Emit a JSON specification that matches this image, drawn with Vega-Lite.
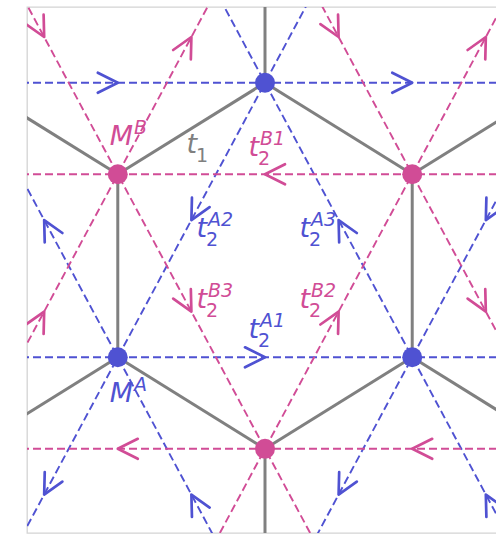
{
  "$schema": "https://vega.github.io/schema/vega-lite/v6.json",
  "width": 476,
  "height": 526,
  "autosize": "none",
  "padding": {"left": 27, "top": 7, "right": 0, "bottom": 3},
  "config": {"view": {"stroke": "#d4d4d4", "strokeWidth": 1.3}},
  "datasets": {
    "bonds": [
      {"x1": 0, "y1": 1, "x2": 0, "y2": 2},
      {"x1": 0, "y1": 1, "x2": -0.866, "y2": 0.5},
      {"x1": 0, "y1": 1, "x2": 0.866, "y2": 0.5},
      {"x1": -0.866, "y1": 0.5, "x2": -0.866, "y2": -0.5},
      {"x1": -0.866, "y1": 0.5, "x2": -1.7321, "y2": 1},
      {"x1": 0.866, "y1": 0.5, "x2": 0.866, "y2": -0.5},
      {"x1": 0.866, "y1": 0.5, "x2": 1.7321, "y2": 1},
      {"x1": -0.866, "y1": -0.5, "x2": 0, "y2": -1},
      {"x1": -0.866, "y1": -0.5, "x2": -1.7321, "y2": -1},
      {"x1": 0.866, "y1": -0.5, "x2": 0, "y2": -1},
      {"x1": 0.866, "y1": -0.5, "x2": 1.7321, "y2": -1},
      {"x1": 0, "y1": -1, "x2": 0, "y2": -2}
    ],
    "hops": [
      {"site": "A", "x1": -2, "y1": 1, "x2": 2, "y2": 1},
      {"site": "A", "x1": -2, "y1": -0.5, "x2": 2, "y2": -0.5},
      {"site": "A", "x1": -1.7321, "y1": -2, "x2": 0.866, "y2": 2.5},
      {"site": "A", "x1": 0, "y1": -2, "x2": 2.5981, "y2": 2.5},
      {"site": "A", "x1": -0.866, "y1": 2.5, "x2": 1.7321, "y2": -2},
      {"site": "A", "x1": -2.5981, "y1": 2.5, "x2": 0, "y2": -2},
      {"site": "B", "x1": -2, "y1": 0.5, "x2": 2, "y2": 0.5},
      {"site": "B", "x1": -2, "y1": -1, "x2": 2, "y2": -1},
      {"site": "B", "x1": -0.866, "y1": -2.5, "x2": 1.7321, "y2": 2},
      {"site": "B", "x1": -2.5981, "y1": -2.5, "x2": 0, "y2": 2},
      {"site": "B", "x1": 0.866, "y1": -2.5, "x2": -1.7321, "y2": 2},
      {"site": "B", "x1": 0, "y1": 2, "x2": 2.5981, "y2": -2.5}
    ],
    "arrows": [
      {"site": "A", "x": -0.866, "y": 1, "heading": 0},
      {"site": "A", "x": 0.866, "y": 1, "heading": 0},
      {"site": "A", "x": 0, "y": -0.5, "heading": 0},
      {"site": "A", "x": -0.433, "y": 0.25, "heading": 118},
      {"site": "A", "x": 0.433, "y": -1.25, "heading": 118},
      {"site": "A", "x": -1.299, "y": -1.25, "heading": 118},
      {"site": "A", "x": 1.299, "y": 0.25, "heading": 118},
      {"site": "A", "x": 0.433, "y": 0.25, "heading": -118},
      {"site": "A", "x": -1.299, "y": 0.25, "heading": -118},
      {"site": "A", "x": -0.433, "y": -1.25, "heading": -118},
      {"site": "A", "x": 1.299, "y": -1.25, "heading": -118},
      {"site": "B", "x": 0, "y": 0.5, "heading": 180},
      {"site": "B", "x": -0.866, "y": -1, "heading": 180},
      {"site": "B", "x": 0.866, "y": -1, "heading": 180},
      {"site": "B", "x": -0.433, "y": 1.25, "heading": -62},
      {"site": "B", "x": 1.299, "y": 1.25, "heading": -62},
      {"site": "B", "x": 0.433, "y": -0.25, "heading": -62},
      {"site": "B", "x": -1.299, "y": -0.25, "heading": -62},
      {"site": "B", "x": -1.299, "y": 1.25, "heading": 62},
      {"site": "B", "x": 0.433, "y": 1.25, "heading": 62},
      {"site": "B", "x": -0.433, "y": -0.25, "heading": 62},
      {"site": "B", "x": 1.299, "y": -0.25, "heading": 62}
    ],
    "sites": [
      {"site": "A", "x": 0, "y": 1},
      {"site": "A", "x": -0.866, "y": -0.5},
      {"site": "A", "x": 0.866, "y": -0.5},
      {"site": "B", "x": -0.866, "y": 0.5},
      {"site": "B", "x": 0.866, "y": 0.5},
      {"site": "B", "x": 0, "y": -1}
    ],
    "labels": [
      {"site": "B", "x": -0.776, "y": 0.66, "base": "M", "sub": "", "sup": "B"},
      {"site": "A", "x": -0.776, "y": -0.745, "base": "M", "sub": "", "sup": "A"},
      {"site": "bond", "x": -0.40, "y": 0.616, "base": "t", "sub": "1", "sup": ""},
      {"site": "B", "x": -0.035, "y": 0.60, "base": "t", "sub": "2", "sup": "B1"},
      {"site": "A", "x": -0.341, "y": 0.157, "base": "t", "sub": "2", "sup": "A2"},
      {"site": "A", "x": 0.265, "y": 0.157, "base": "t", "sub": "2", "sup": "A3"},
      {"site": "B", "x": -0.341, "y": -0.231, "base": "t", "sub": "2", "sup": "B3"},
      {"site": "B", "x": 0.265, "y": -0.231, "base": "t", "sub": "2", "sup": "B2"},
      {"site": "A", "x": -0.035, "y": -0.395, "base": "t", "sub": "2", "sup": "A1"}
    ]
  },
  "layer": [
    {
      "data": {"name": "bonds"},
      "mark": {"type": "rule", "clip": true, "color": "#808080", "strokeWidth": 3},
      "encoding": {
        "x": {"field": "x1", "type": "quantitative", "scale": {"domain": [-1.4, 1.4], "nice": false, "zero": false}, "axis": null},
        "y": {"field": "y1", "type": "quantitative", "scale": {"domain": [-1.46, 1.414], "nice": false, "zero": false}, "axis": null},
        "x2": {"field": "x2"},
        "y2": {"field": "y2"}
      }
    },
    {
      "data": {"name": "hops"},
      "mark": {"type": "rule", "clip": true, "strokeWidth": 1.9, "strokeDash": [8, 4]},
      "encoding": {
        "x": {"field": "x1", "type": "quantitative"},
        "y": {"field": "y1", "type": "quantitative"},
        "x2": {"field": "x2"},
        "y2": {"field": "y2"},
        "color": {"field": "site", "type": "nominal", "scale": {"domain": ["A", "B", "bond"], "range": ["#4f52d2", "#d14c96", "#808080"]}, "legend": null}
      }
    },
    {
      "data": {"name": "arrows"},
      "mark": {"type": "point", "shape": "M-1,-0.5L0,0L-1,0.5", "size": 1600, "filled": false, "strokeWidth": 2.7, "strokeCap": "round", "strokeJoin": "round", "opacity": 1, "clip": true},
      "encoding": {
        "x": {"field": "x", "type": "quantitative"},
        "y": {"field": "y", "type": "quantitative"},
        "angle": {"field": "heading", "type": "quantitative", "scale": null},
        "color": {"field": "site", "type": "nominal"}
      }
    },
    {
      "data": {"name": "sites"},
      "mark": {"type": "point", "shape": "circle", "size": 400, "filled": true, "opacity": 1},
      "encoding": {
        "x": {"field": "x", "type": "quantitative"},
        "y": {"field": "y", "type": "quantitative"},
        "color": {"field": "site", "type": "nominal"}
      }
    },
    {
      "data": {"name": "labels"},
      "layer": [
        {
          "mark": {"type": "text", "align": "right", "baseline": "alphabetic", "font": "DejaVu Sans", "fontStyle": "italic", "fontSize": 27},
          "encoding": {"text": {"field": "base"}}
        },
        {
          "mark": {"type": "text", "align": "left", "baseline": "alphabetic", "font": "DejaVu Sans", "fontSize": 19, "dx": -1, "dy": 9},
          "encoding": {"text": {"field": "sub"}}
        },
        {
          "mark": {"type": "text", "align": "left", "baseline": "alphabetic", "font": "DejaVu Sans", "fontStyle": "italic", "fontSize": 19, "dx": 1, "dy": -11},
          "encoding": {"text": {"field": "sup"}}
        }
      ],
      "encoding": {
        "x": {"field": "x", "type": "quantitative"},
        "y": {"field": "y", "type": "quantitative"},
        "color": {"field": "site", "type": "nominal"}
      }
    }
  ]
}
